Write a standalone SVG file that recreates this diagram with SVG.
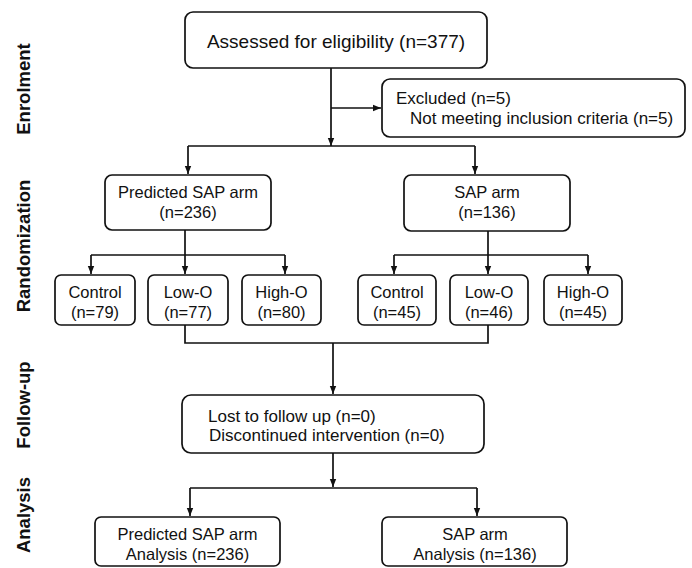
<svg xmlns="http://www.w3.org/2000/svg" width="692" height="568" viewBox="0 0 692 568">
<defs>
<marker id="arr" markerUnits="userSpaceOnUse" markerWidth="8" markerHeight="8" viewBox="0 0 8 8" refX="8" refY="4" orient="auto">
<path d="M0,0.8 L8,4 L0,7.2 Z" fill="#111"/>
</marker>
<style>
.box{fill:#fff;stroke:#111;stroke-width:1.7}
.t{font-family:"Liberation Sans",Arial,sans-serif;font-size:16.5px;fill:#111}
.c{text-anchor:middle}
.big{font-size:19px}
.mid{font-size:17px}
.lbl{font-family:"Liberation Sans",Arial,sans-serif;font-size:18.5px;font-weight:bold;fill:#111;text-anchor:middle}
.ln{fill:none;stroke:#111;stroke-width:1.7}
.ar{fill:none;stroke:#111;stroke-width:1.7;marker-end:url(#arr)}
</style>
</defs>
<rect width="692" height="568" fill="#fff"/>

<g id="stage-labels">
<text class="lbl" transform="translate(30,89) rotate(-90)">Enrolment</text>
<text class="lbl" transform="translate(30,246) rotate(-90)">Randomization</text>
<text class="lbl" transform="translate(30,405) rotate(-90)">Follow-up</text>
<text class="lbl" transform="translate(30,515) rotate(-90)">Analysis</text>
</g>

<g id="connectors">
<path class="ar" d="M331,68 V146"/>
<path class="ar" d="M331,108 H381"/>
<path class="ln" d="M188,146 H475"/>
<path class="ar" d="M188,146 V174"/>
<path class="ar" d="M475,146 V174"/>

<path class="ar" d="M185,230 V274"/>
<path class="ln" d="M91,255 H285"/>
<path class="ar" d="M91,255 V274"/>
<path class="ar" d="M285,255 V274"/>

<path class="ar" d="M488,231 V274"/>
<path class="ln" d="M394,255 H588"/>
<path class="ar" d="M394,255 V274"/>
<path class="ar" d="M588,255 V274"/>

<path class="ln" d="M185,325 V343 H488 V325"/>
<path class="ar" d="M333,343 V394"/>

<path class="ar" d="M333,453 V487"/>
<path class="ln" d="M190,488 H477"/>
<path class="ar" d="M190,488 V516"/>
<path class="ar" d="M477,488 V516"/>
</g>

<g id="assessed">
<rect class="box" x="185" y="12" width="302" height="56" rx="8"/>
<text class="t big c" x="336" y="48">Assessed for eligibility (n=377)</text>
</g>

<g id="excluded">
<rect class="box" x="382" y="79" width="303" height="58" rx="8"/>
<text class="t mid" x="396" y="104">Excluded (n=5)</text>
<text class="t mid" x="410" y="124">Not meeting inclusion criteria (n=5)</text>
</g>

<g id="predicted-arm">
<rect class="box" x="105" y="175" width="166" height="55" rx="7"/>
<text class="t c" x="188" y="198">Predicted SAP arm</text>
<text class="t c" x="188" y="218">(n=236)</text>
</g>

<g id="sap-arm">
<rect class="box" x="404" y="175" width="166" height="56" rx="7"/>
<text class="t c" x="487" y="198">SAP arm</text>
<text class="t c" x="487" y="218">(n=136)</text>
</g>

<g id="p-control">
<rect class="box" x="55" y="275" width="80" height="50" rx="6"/>
<text class="t c" x="95" y="298">Control</text>
<text class="t c" x="95" y="318">(n=79)</text>
</g>
<g id="p-lowo">
<rect class="box" x="148" y="275" width="80" height="50" rx="6"/>
<text class="t c" x="188" y="298">Low-O</text>
<text class="t c" x="188" y="318">(n=77)</text>
</g>
<g id="p-higho">
<rect class="box" x="242" y="275" width="79" height="50" rx="6"/>
<text class="t c" x="281.5" y="298">High-O</text>
<text class="t c" x="281.5" y="318">(n=80)</text>
</g>

<g id="s-control">
<rect class="box" x="358" y="275" width="78" height="50" rx="6"/>
<text class="t c" x="397" y="298">Control</text>
<text class="t c" x="397" y="318">(n=45)</text>
</g>
<g id="s-lowo">
<rect class="box" x="450" y="275" width="78" height="50" rx="6"/>
<text class="t c" x="489" y="298">Low-O</text>
<text class="t c" x="489" y="318">(n=46)</text>
</g>
<g id="s-higho">
<rect class="box" x="544" y="275" width="78" height="50" rx="6"/>
<text class="t c" x="583" y="298">High-O</text>
<text class="t c" x="583" y="318">(n=45)</text>
</g>

<g id="follow-up">
<rect class="box" x="182" y="395" width="302" height="58" rx="9"/>
<text class="t mid" x="208" y="422">Lost to follow up (n=0)</text>
<text class="t mid" x="209" y="441">Discontinued intervention (n=0)</text>
</g>

<g id="analysis-predicted">
<rect class="box" x="95" y="517" width="185" height="49" rx="6"/>
<text class="t c" x="187.5" y="540">Predicted SAP arm</text>
<text class="t c" x="187.5" y="560">Analysis (n=236)</text>
</g>

<g id="analysis-sap">
<rect class="box" x="382" y="517" width="185" height="49" rx="6"/>
<text class="t c" x="475" y="540">SAP arm</text>
<text class="t c" x="475" y="560">Analysis (n=136)</text>
</g>
</svg>
